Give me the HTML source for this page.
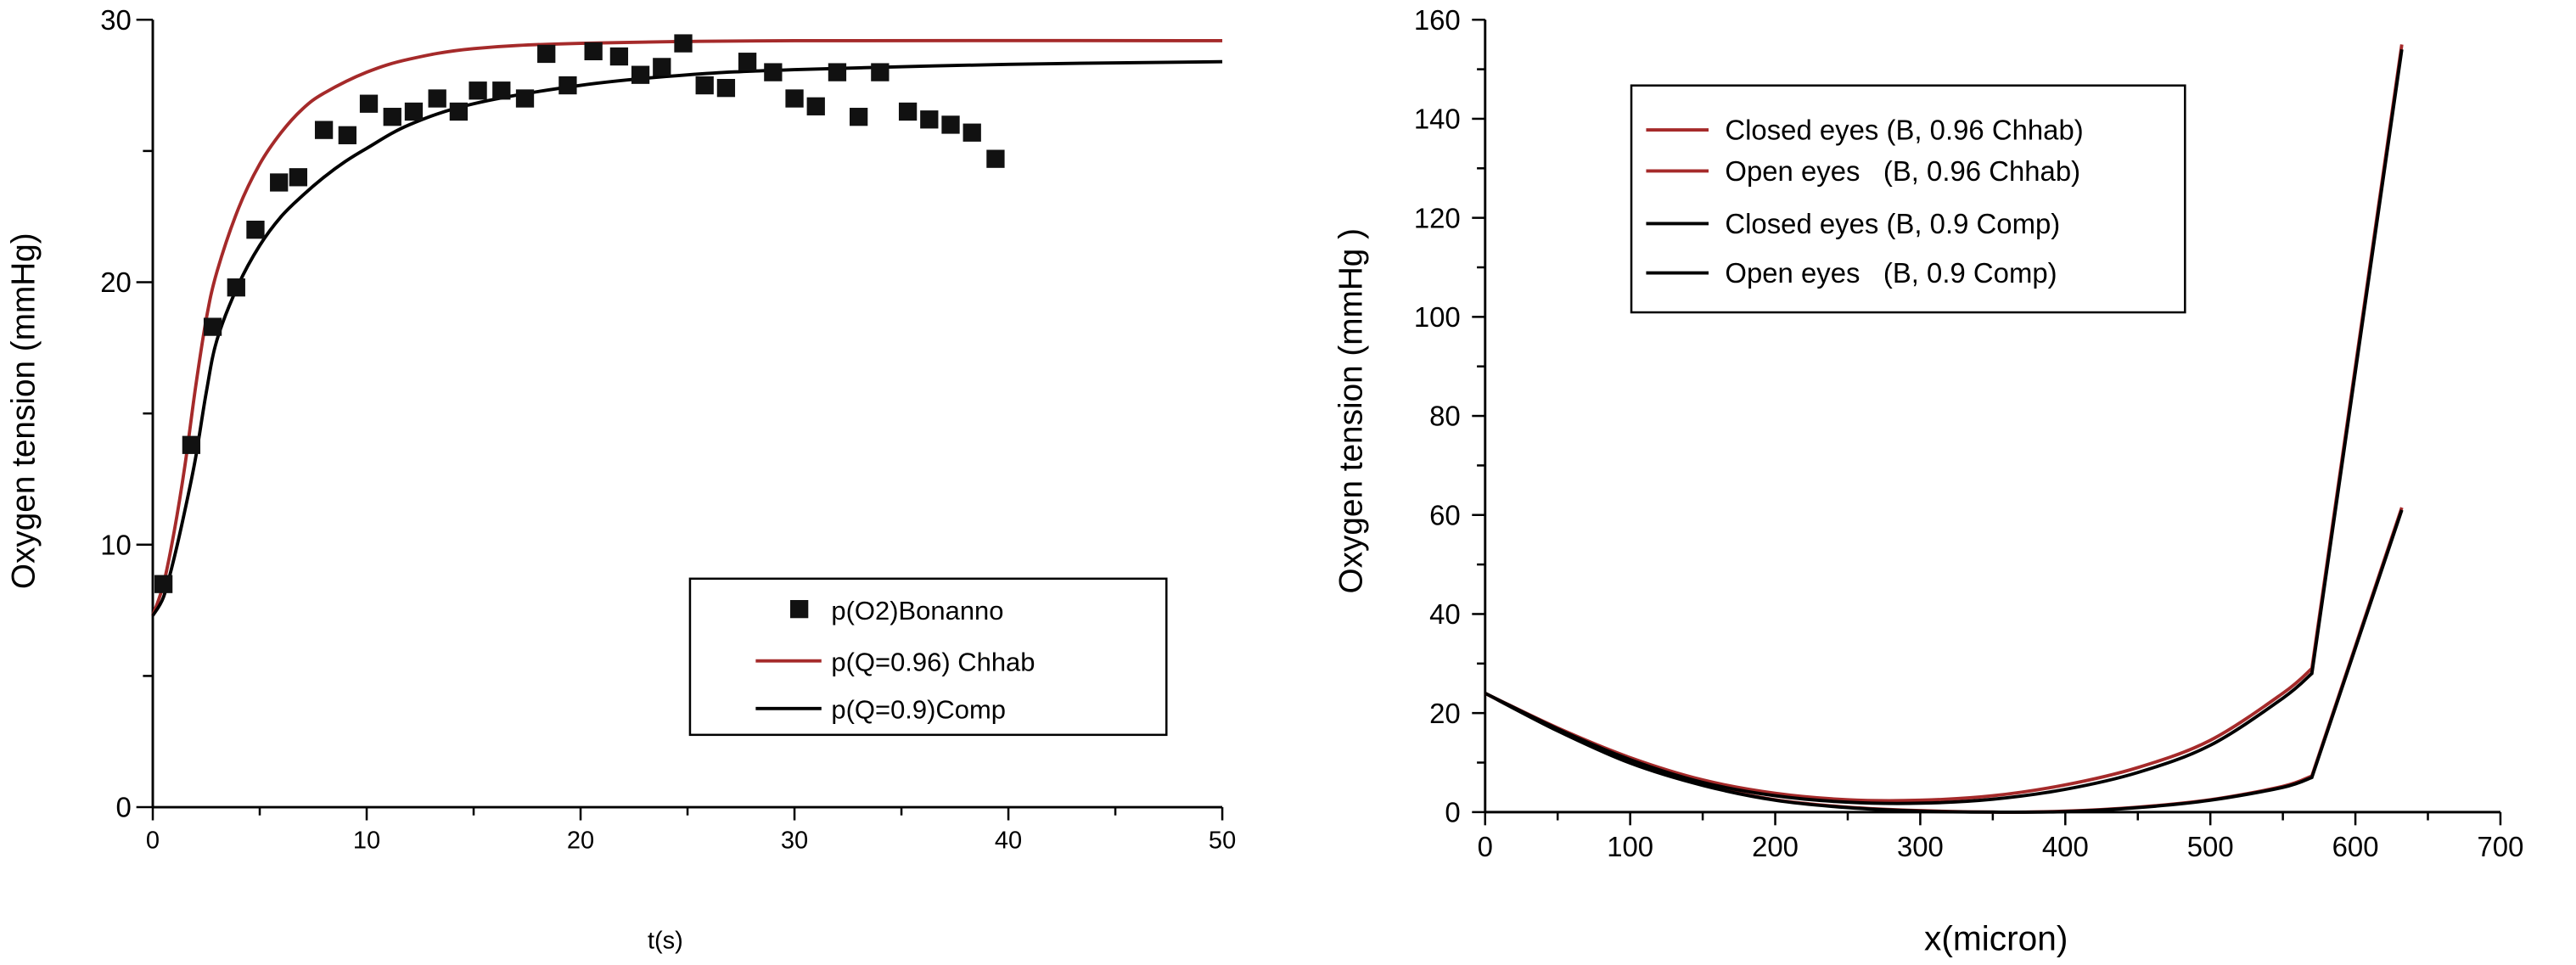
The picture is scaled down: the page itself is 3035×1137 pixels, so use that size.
<!DOCTYPE html>
<html><head><meta charset="utf-8"><style>
html,body{margin:0;padding:0;background:#fff;}
svg{display:block;font-family:"Liberation Sans",Arial,sans-serif;}
</style></head><body>
<svg id="chart" width="3035" height="1137" viewBox="0 0 1568 587" preserveAspectRatio="none" xmlns="http://www.w3.org/2000/svg">
<g id="left"></g>
<g id="right"></g>
</svg>
<script>
// ---- Left chart data ----
const scatterT = [0.5,1.8,2.8,3.9,4.8,5.9,6.8,8.0,9.1,10.1,11.2,12.2,13.3,14.3,15.2,16.3,17.4,18.4,19.4,20.6,21.8,22.8,23.8,24.8,25.8,26.8,27.8,29.0,30.0,31.0,32.0,33.0,34.0,35.3,36.3,37.3,38.3,39.4];
const scatterP = [8.5,13.8,18.3,19.8,22.0,23.8,24.0,25.8,25.6,26.8,26.3,26.5,27.0,26.5,27.3,27.3,27.0,28.7,27.5,28.8,28.6,27.9,28.2,29.1,27.5,27.4,28.4,28.0,27.0,26.7,28.0,26.3,28.0,26.5,26.2,26.0,25.7,24.7];
const chhabT = [0,0.5,1,1.5,2,2.5,3,4,5,6,7,8,10,12,15,20,30,50];
const chhabP = [7.3,8.5,10.5,13,16,18.6,20.4,22.8,24.5,25.7,26.6,27.2,28.0,28.5,28.9,29.1,29.2,29.2];
const compT = [0,0.5,1,1.5,2,2.5,3,4,5,6,7,8,9,10,12,15,20,25,30,40,50];
const compP = [7.3,8.0,9.5,11.3,13.3,15.8,17.8,19.9,21.4,22.5,23.3,24.0,24.6,25.1,26.0,26.8,27.5,27.9,28.1,28.3,28.4];
const leftXTicks = [0,10,20,30,40,50];
const leftYTicks = [0,10,20,30];
// ---- Right chart data ----
const microns = [0,50,100,150,200,250,300,350,400,450,500,550,570,632];
const closedChhab = [24,17,11,6.5,3.8,2.5,2.4,3.3,5.5,9,14.5,24,29,155];
const closedComp = [24,16.8,10.6,6,3.3,2,1.8,2.6,4.6,8,13.5,23,28,154];
const openChhab = [24,16.5,10,5.5,2.5,1,0.3,0,0.2,1,2.5,5.2,7.3,61.5];
const openComp = [24,16.4,9.9,5.4,2.4,0.9,0.2,0,0.1,0.9,2.4,5,7,61];
const rightXTicks = [0,100,200,300,400,500,600,700];
const rightYTicks = [0,20,40,60,80,100,120,140,160];

const NS="http://www.w3.org/2000/svg";
function mk(parent,tag,attrs,text){const e=document.createElementNS(NS,tag);for(const k in attrs)e.setAttribute(k,attrs[k]);if(text!==undefined)e.textContent=text;parent.appendChild(e);return e;}
function smooth(pts){let d="M"+pts[0][0]+","+pts[0][1];for(let i=0;i<pts.length-1;i++){const p0=pts[Math.max(0,i-1)],p1=pts[i],p2=pts[i+1],p3=pts[Math.min(pts.length-1,i+2)];const c1=[p1[0]+(p2[0]-p0[0])/6,p1[1]+(p2[1]-p0[1])/6],c2=[p2[0]-(p3[0]-p1[0])/6,p2[1]-(p3[1]-p1[1])/6];d+=" C"+c1+" "+c2+" "+p2;}return d;}

// Left chart
const L=document.getElementById('left');
const lx=v=>93+v*(744-93)/50, ly=v=>491-v*(491-12)/30;
let e;
e=mk(L,'line',{x1:93,y1:12,x2:93,y2:491,stroke:'#000','stroke-width':1.5});


e=mk(L,'line',{x1:93,y1:491,x2:744,y2:491,stroke:'#000','stroke-width':1.5});


for(let v=0;v<=50;v+=5){const major=v%10===0;mk(L,'line',{x1:lx(v),y1:491,x2:lx(v),y2:491+(major?8:5),stroke:'#000','stroke-width':1.3});}
leftXTicks.forEach(v=>{e=mk(L,'text',{x:lx(v),y:516,'text-anchor':'middle','font-size':15},String(v));

});
for(let v=0;v<=30;v+=5){const major=v%10===0;mk(L,'line',{x1:93,y1:ly(v),x2:93-(major?10:6),y2:ly(v),stroke:'#000','stroke-width':1.3});}
leftYTicks.forEach(v=>{e=mk(L,'text',{x:80,y:ly(v)+6,'text-anchor':'end','font-size':17},String(v));

});
e=mk(L,'text',{x:405,y:577,'text-anchor':'middle','font-size':15},'t(s)');


e=mk(L,'text',{x:0,y:0,transform:'translate(21,250) rotate(-90)','text-anchor':'middle','font-size':20},'Oxygen tension (mmHg)');


e=mk(L,'path',{d:smooth(chhabT.map((t,i)=>[lx(t),ly(chhabP[i])])),fill:'none',stroke:'#a52a2a','stroke-width':2});


e=mk(L,'path',{d:smooth(compT.map((t,i)=>[lx(t),ly(compP[i])])),fill:'none',stroke:'#000','stroke-width':2});


scatterT.forEach((t,i)=>{e=mk(L,'rect',{x:lx(t)-5.5,y:ly(scatterP[i])-5.5,width:11,height:11,fill:'#111'});

});
const lg=mk(L,'g',{});


mk(lg,'rect',{x:420,y:352,width:290,height:95,fill:'#fff',stroke:'#000','stroke-width':1.3});
mk(lg,'rect',{x:481,y:365,width:11,height:11,fill:'#111'});
mk(lg,'text',{x:506,y:377,'font-size':16},'p(O2)Bonanno');
mk(lg,'line',{x1:460,y1:402,x2:500,y2:402,stroke:'#a52a2a','stroke-width':2});
mk(lg,'text',{x:506,y:408,'font-size':16},'p(Q=0.96) Chhab');
mk(lg,'line',{x1:460,y1:431,x2:500,y2:431,stroke:'#000','stroke-width':2});
mk(lg,'text',{x:506,y:437,'font-size':16},'p(Q=0.9)Comp');

// Right chart
const R=document.getElementById('right');
const rx=v=>904+v*(1522-904)/700, ry=v=>494-v*(494-12)/160;
e=mk(R,'line',{x1:904,y1:12,x2:904,y2:494,stroke:'#000','stroke-width':1.5});


e=mk(R,'line',{x1:904,y1:494,x2:1522,y2:494,stroke:'#000','stroke-width':1.5});


for(let v=0;v<=700;v+=50){const major=v%100===0;mk(R,'line',{x1:rx(v),y1:494,x2:rx(v),y2:494+(major?8:5),stroke:'#000','stroke-width':1.3});}
rightXTicks.forEach(v=>{e=mk(R,'text',{x:rx(v),y:521,'text-anchor':'middle','font-size':17},String(v));

});
for(let v=0;v<=160;v+=10){const major=v%20===0;mk(R,'line',{x1:904,y1:ry(v),x2:904-(major?8:5),y2:ry(v),stroke:'#000','stroke-width':1.3});}
rightYTicks.forEach(v=>{e=mk(R,'text',{x:889,y:ry(v)+6,'text-anchor':'end','font-size':17},String(v));

});
e=mk(R,'text',{x:1215,y:578,'text-anchor':'middle','font-size':21},'x(micron)');


e=mk(R,'text',{x:0,y:0,transform:'translate(829,250) rotate(-90)','text-anchor':'middle','font-size':20},'Oxygen tension (mmHg )');


function rcurve(vals,col,name){const n=microns.length;const pts=microns.slice(0,n-1).map((m,i)=>[rx(m),ry(vals[i])]);const d=smooth(pts)+" L"+rx(microns[n-1])+","+ry(vals[n-1]);
e=mk(R,'path',{d:d,fill:'none',stroke:col,'stroke-width':2});

}
rcurve(openChhab,'#a52a2a','open-eyes-chhab-curve');
rcurve(openComp,'#000','open-eyes-comp-curve');
rcurve(closedChhab,'#a52a2a','closed-eyes-chhab-curve');
rcurve(closedComp,'#000','closed-eyes-comp-curve');
const rg=mk(R,'g',{});


mk(rg,'rect',{x:993,y:52,width:337,height:138,fill:'#fff',stroke:'#000','stroke-width':1.3});
const leg=[['Closed eyes (B, 0.96 Chhab)','#a52a2a',79],['Open eyes\u00a0\u00a0\u00a0(B, 0.96 Chhab)','#a52a2a',104],['Closed eyes (B, 0.9 Comp)','#000',136],['Open eyes\u00a0\u00a0\u00a0(B, 0.9 Comp)','#000',166]];
leg.forEach(l=>{mk(rg,'line',{x1:1002,y1:l[2],x2:1040,y2:l[2],stroke:l[1],'stroke-width':2});mk(rg,'text',{x:1050,y:l[2]+6,'font-size':17},l[0]);});
</script>
</body></html>
